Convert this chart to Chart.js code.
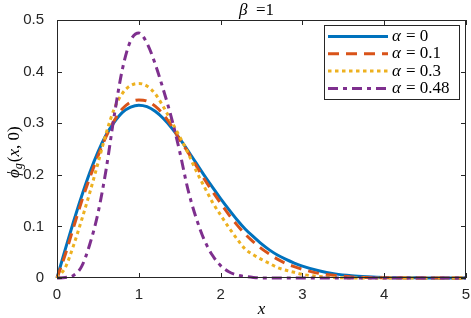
<!DOCTYPE html>
<html>
<head>
<meta charset="utf-8">
<script src="https://cdn.jsdelivr.net/npm/chart.js@4.4.1/dist/chart.umd.min.js"></script>
<style>
  html, body { margin: 0; padding: 0; background: #fff; }
</style>
</head>
<body>
<canvas id="phiChart" width="471" height="318"></canvas>
<script>
// sample positions along x
const xs = [0, 0.1, 0.2, 0.3, 0.4, 0.5, 0.6, 0.7, 0.8, 0.9, 1.0,
  1.1, 1.2, 1.3, 1.4, 1.5, 1.6, 1.7, 1.8, 1.9, 2.0,
  2.1, 2.2, 2.3, 2.4, 2.5, 2.6, 2.7, 2.8, 2.9, 3.0,
  3.2, 3.4, 3.6, 3.8, 4.0, 4.5, 5.0];

// values
const alpha0 = [0, 0.055, 0.108, 0.158, 0.204, 0.244, 0.277, 0.302, 0.321, 0.331, 0.335,
  0.332, 0.323, 0.309, 0.291, 0.270, 0.247, 0.223, 0.199, 0.176, 0.154,
  0.133, 0.113, 0.095, 0.080, 0.066, 0.054, 0.044, 0.036, 0.029, 0.023,
  0.014, 0.008, 0.0045, 0.0025, 0.0012, 0.0002, 0];
const alpha01 = [0, 0.045, 0.097, 0.148, 0.194, 0.236, 0.274, 0.305, 0.328, 0.341, 0.345,
  0.343, 0.333, 0.317, 0.295, 0.268, 0.244, 0.218, 0.192, 0.168, 0.145,
  0.123, 0.103, 0.085, 0.070, 0.057, 0.046, 0.036, 0.028, 0.022, 0.017,
  0.009, 0.005, 0.002, 0.001, 0.0005, 0, 0];
const alpha03 = [0, 0.020, 0.062, 0.112, 0.165, 0.222, 0.280, 0.328, 0.358, 0.373, 0.377,
  0.372, 0.357, 0.332, 0.303, 0.274, 0.243, 0.208, 0.177, 0.147, 0.122,
  0.098, 0.076, 0.056, 0.045, 0.036, 0.028, 0.020, 0.015, 0.011, 0.007,
  0.003, 0.001, 0, 0, 0, 0, 0];
const alpha048 = [0, 0.001, 0.005, 0.022, 0.065, 0.125, 0.210, 0.315, 0.405, 0.460, 0.475,
  0.455, 0.415, 0.365, 0.310, 0.245, 0.172, 0.117, 0.074, 0.044, 0.024,
  0.012, 0.006, 0.003, 0.001, 0, 0, 0, 0, 0, 0,
  0, 0, 0, 0, 0, 0, 0];

const alphaLabels = ['0', '0.1', '0.3', '0.48'];
const xTicks = [0, 1, 2, 3, 4, 5];
const yTicks = [0, 0.1, 0.2, 0.3, 0.4, 0.5];
const yTickLabels = ['0', '0.1', '0.2', '0.3', '0.4', '0.5'];

const pts = arr => xs.map((x, i) => ({ x: x, y: arr[i] }));

const axisColor = '#262626';
const serif = '"Liberation Serif", "DejaVu Serif", serif';
const sans = '"Liberation Sans", Arial, sans-serif';

// box, inward ticks, legend and math-style labels
const decor = {
  id: 'decor',
  afterDraw(chart) {
    const ctx = chart.ctx;
    const a = chart.chartArea;
    const sx = chart.scales.x, sy = chart.scales.y;
    ctx.save();
    ctx.strokeStyle = axisColor;
    ctx.lineWidth = 1;
    ctx.strokeRect(Math.round(a.left) + 0.5, Math.round(a.top) + 0.5,
      Math.round(a.right - a.left) - 1, Math.round(a.bottom - a.top) - 1);

    ctx.beginPath();
    xTicks.forEach(v => {
      const px = Math.round(sx.getPixelForValue(v)) + 0.5;
      ctx.moveTo(px, a.bottom); ctx.lineTo(px, a.bottom - 5);
      ctx.moveTo(px, a.top); ctx.lineTo(px, a.top + 5);
    });
    yTicks.forEach(v => {
      const py = Math.round(sy.getPixelForValue(v)) + 0.5;
      ctx.moveTo(a.left, py); ctx.lineTo(a.left + 5, py);
      ctx.moveTo(a.right, py); ctx.lineTo(a.right - 5, py);
    });
    ctx.stroke();

    // legend
    const lx = 324, ly = 25, lw = 135, lh = 74;
    ctx.fillStyle = '#fff';
    ctx.fillRect(lx, ly, lw, lh);
    ctx.strokeStyle = axisColor;
    ctx.strokeRect(lx + 0.5, ly + 0.5, lw, lh);
    chart.data.datasets.forEach((ds, i) => {
      const cy = 36.5 + i * 17.3;
      ctx.save();
      ctx.strokeStyle = ds.borderColor;
      ctx.lineWidth = ds.borderWidth;
      ctx.setLineDash(ds.borderDash || []);
      ctx.beginPath();
      ctx.moveTo(328, cy); ctx.lineTo(388, cy);
      ctx.stroke();
      ctx.restore();
      ctx.fillStyle = '#000';
      ctx.textBaseline = 'middle';
      ctx.textAlign = 'left';
      ctx.font = 'italic 17px ' + serif;
      ctx.fillText('α', 392, cy);
      ctx.font = '17px ' + serif;
      ctx.fillText('= ' + alphaLabels[i], 406, cy);
    });

    // title
    ctx.fillStyle = '#000';
    ctx.textBaseline = 'alphabetic';
    ctx.font = 'italic 17px ' + serif;
    ctx.fillText('β', 239, 15);
    ctx.font = '17px ' + serif;
    ctx.fillText('=1', 256, 15);

    // x label
    ctx.font = 'italic 17px ' + serif;
    ctx.textAlign = 'center';
    ctx.fillText('x', (a.left + a.right) / 2, 314);

    // y label, rotated
    ctx.save();
    ctx.translate(19, 150);
    ctx.rotate(-Math.PI / 2);
    ctx.textAlign = 'left';
    let t = -28;
    ctx.font = 'italic 17px ' + serif;
    ctx.fillText('ϕ', t, 0); t += ctx.measureText('ϕ').width;
    ctx.font = 'italic 12px ' + serif;
    ctx.fillText('g', t, 3); t += ctx.measureText('g').width + 1;
    ctx.font = '17px ' + serif;
    ctx.fillText('(', t, 0); t += ctx.measureText('(').width;
    ctx.font = 'italic 17px ' + serif;
    ctx.fillText('x', t, 0); t += ctx.measureText('x').width;
    ctx.font = '17px ' + serif;
    ctx.fillText(', 0)', t, 0);
    ctx.restore();
    ctx.restore();
  }
};

new Chart(document.getElementById('phiChart'), {
  type: 'line',
  data: {
    datasets: [
      { label: 'α = 0', data: pts(alpha0), borderColor: '#0072BD', borderWidth: 3, order: 4 },
      { label: 'α = 0.1', data: pts(alpha01), borderColor: '#D95319', borderWidth: 3, borderDash: [11, 7], order: 3 },
      { label: 'α = 0.3', data: pts(alpha03), borderColor: '#EDB120', borderWidth: 3, borderDash: [3.5, 3.5], order: 2 },
      { label: 'α = 0.48', data: pts(alpha048), borderColor: '#7E2F8E', borderWidth: 3, borderDash: [10, 5, 4, 5], order: 1 }
    ]
  },
  options: {
    responsive: false,
    animation: false,
    layout: { padding: { left: 0, right: 5, top: 20, bottom: 0 } },
    elements: {
      point: { radius: 0 },
      line: { cubicInterpolationMode: 'monotone', fill: false }
    },
    datasets: { line: { clip: 4 } },
    plugins: { legend: { display: false }, tooltip: { enabled: false } },
    scales: {
      x: {
        type: 'linear', min: 0, max: 5,
        grid: { display: false },
        border: { display: false },
        afterFit: s => { s.height = 40; },
        afterBuildTicks: s => { s.ticks = xTicks.map(v => ({ value: v })); },
        ticks: { color: axisColor, padding: 0, font: { family: sans, size: 15 } }
      },
      y: {
        type: 'linear', min: 0, max: 0.5,
        grid: { display: false },
        border: { display: false },
        afterFit: s => { s.width = 57; },
        afterBuildTicks: s => { s.ticks = yTicks.map(v => ({ value: v })); },
        ticks: {
          color: axisColor, padding: 5,
          font: { family: sans, size: 15 },
          callback: (v, i) => yTickLabels[i]
        }
      }
    }
  },
  plugins: [decor]
});
</script>
</body>
</html>
